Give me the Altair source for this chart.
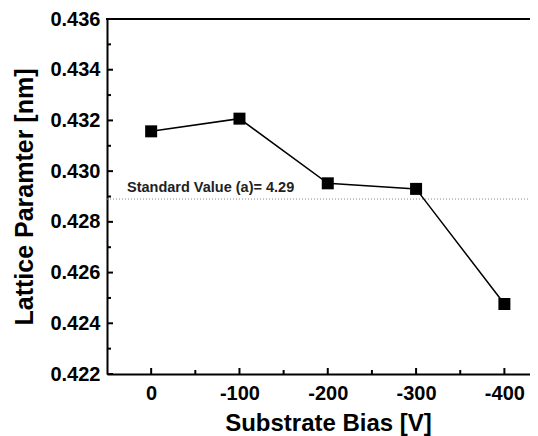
import altair as alt
import pandas as pd

# ---- data ----
bias = [0, -100, -200, -300, -400]
lattice = [0.43157, 0.43207, 0.42952, 0.42930, 0.42476]
standard_value = 0.4289
standard_label = "Standard Value (a)= 4.29"

x_major = [0, -100, -200, -300, -400]
x_minor = [-50, -150, -250, -350]
y_major = [0.422, 0.424, 0.426, 0.428, 0.430, 0.432, 0.434, 0.436]
y_minor = [0.423, 0.425, 0.427, 0.429, 0.431, 0.433, 0.435]

x_domain = [-429, 50]
y_domain = [0.422, 0.436]

W, H = 423, 355
FONT = "Liberation Sans"

xs = alt.Scale(domain=x_domain, reverse=True, nice=False, zero=False)
ys = alt.Scale(domain=y_domain, nice=False, zero=False)

xaxis = alt.Axis(values=x_major, title="Substrate Bias [V]", labelExpr="'' + datum.value",
                 ticks=False, grid=False, domainWidth=2, domainColor="black",
                 labelFont=FONT, labelFontSize=20, labelFontWeight="bold",
                 labelColor="black", labelPadding=9,
                 titleFont=FONT, titleFontSize=24, titleFontWeight="bold",
                 titleColor="black", titlePadding=8, titleX=221)
yaxis = alt.Axis(values=y_major, title="Lattice Paramter [nm]", format=".3f",
                 ticks=False, grid=False, domainWidth=2, domainColor="black",
                 labelFont=FONT, labelFontSize=20, labelFontWeight="bold",
                 labelColor="black", labelPadding=7,
                 titleFont=FONT, titleFontSize=25, titleFontWeight="bold",
                 titleColor="black", titlePadding=12)


def X(field):
    return alt.X(field, type="quantitative", scale=xs, axis=xaxis)


def Y(field):
    return alt.Y(field, type="quantitative", scale=ys, axis=yaxis)


df = pd.DataFrame({"bias": bias, "lattice": lattice})
base = alt.Chart(df)

line = base.mark_line(color="black", strokeWidth=1.5).encode(x=X("bias"), y=Y("lattice"))
points = base.mark_point(shape="square", filled=True, color="black", size=144, opacity=1).encode(
    x=X("bias"), y=Y("lattice"))

std_df = pd.DataFrame({"v": [standard_value], "label": [standard_label]})
std_rule = alt.Chart(std_df).mark_rule(color="#8a8a8a", strokeWidth=1, strokeDash=[1, 2]).encode(
    y=Y("v"), x=alt.value(0), x2=alt.value(W))
std_text = alt.Chart(std_df).mark_text(
    align="left", baseline="alphabetic", dy=-7, font=FONT, fontSize=14.5,
    fontWeight="bold", color="#222222"
).encode(y=Y("v"), x=alt.value(20), text="label:N")

ymaj = alt.Chart(pd.DataFrame({"v": y_major})).mark_rule(color="black", strokeWidth=2).encode(
    y=Y("v"), x=alt.value(0), x2=alt.value(6))
ymin = alt.Chart(pd.DataFrame({"v": y_minor})).mark_rule(color="black", strokeWidth=2).encode(
    y=Y("v"), x=alt.value(0), x2=alt.value(4))
xmaj = alt.Chart(pd.DataFrame({"v": x_major})).mark_rule(color="black", strokeWidth=2).encode(
    x=X("v"), y=alt.value(H), y2=alt.value(H - 6))
xmin = alt.Chart(pd.DataFrame({"v": x_minor})).mark_rule(color="black", strokeWidth=2).encode(
    x=X("v"), y=alt.value(H), y2=alt.value(H - 4))

top = alt.Chart(pd.DataFrame({"v": [y_domain[1]]})).mark_rule(color="black", strokeWidth=2).encode(
    y=Y("v"), x=alt.value(-1), x2=alt.value(W))

chart = alt.layer(std_rule, std_text, line, points, ymaj, ymin, xmaj, xmin, top).properties(
    width=W, height=H,
    autosize=alt.AutoSizeParams(type="none"),
    padding={"left": 99, "top": 11, "right": 0, "bottom": 62},
    background="white",
).configure_view(stroke=None)

chart.save("out.html", embed_options={"renderer": "svg", "actions": False})
